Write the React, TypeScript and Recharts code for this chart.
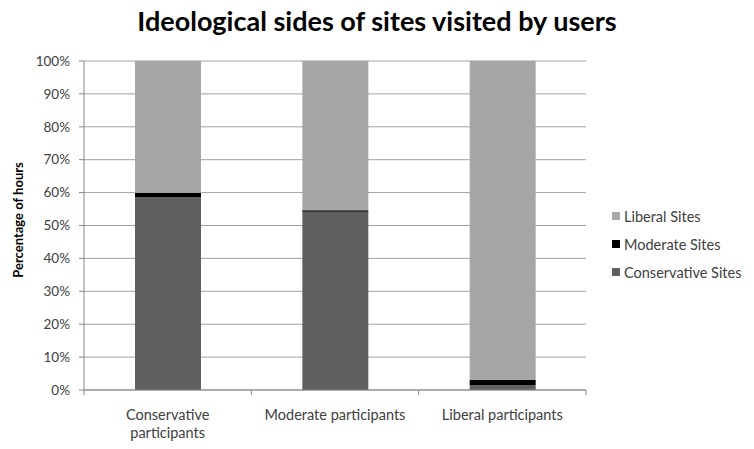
import React from 'react';
import { BarChart, Bar, XAxis, YAxis, CartesianGrid, Text } from 'recharts';

const categories = ['Conservative participants', 'Moderate participants', 'Liberal participants'];
const conservativeSites = [58.7, 54.2, 1.5];
const moderateSites = [1.2, 0.4, 1.6];
const liberalSites = [40.1, 45.4, 96.9];
const yTicks = [0, 10, 20, 30, 40, 50, 60, 70, 80, 90, 100];
const boundaryTicks = [0, 1, 2, 3];

const seriesInfo = [
  { key: 'liberal', name: 'Liberal Sites', color: '#A6A6A6' },
  { key: 'moderate', name: 'Moderate Sites', color: '#000000' },
  { key: 'conservative', name: 'Conservative Sites', color: '#606060' },
];

const data = categories.map((c, i) => ({
  name: c,
  idx: i + 0.5,
  conservative: conservativeSites[i],
  moderate: moderateSites[i],
  liberal: liberalSites[i],
}));

const FONT = 'Lato, "Open Sans", sans-serif';

const XTick = (props: any) => {
  const { x, y, payload } = props;
  return (
    <Text x={x} y={y + 6} width={158} textAnchor="middle" verticalAnchor="start"
      style={{ fontFamily: FONT, fontSize: 14.5 }} fill="#404040" lineHeight={18}>
      {payload.value}
    </Text>
  );
};

export default function App() {
  return (
    <div style={{ position: 'absolute', left: 0, top: 0, width: 754, height: 449, background: '#fff' }}>
      <div style={{ position: 'absolute', left: 0, top: 4, width: 754, textAlign: 'center', fontFamily: FONT, fontWeight: 700, fontSize: 27, color: '#000' }}>
        Ideological sides of sites visited by users
      </div>
      <div style={{ position: 'absolute', left: 18, top: 220, width: 0, height: 0 }}>
        <div style={{ position: 'absolute', transform: 'translate(-50%, -50%) rotate(-90deg)', whiteSpace: 'nowrap', fontFamily: FONT, fontWeight: 700, fontSize: 13, color: '#000' }}>
          Percentage of hours
        </div>
      </div>
      <BarChart width={754} height={449} data={data} margin={{ top: 61, right: 168, bottom: 0, left: 20 }} barCategoryGap="60%">
        <CartesianGrid vertical={false} stroke="#A0A0A0" strokeWidth={1} xAxisId="cat" />
        <XAxis xAxisId={0} type="number" dataKey="idx" domain={[0, 3]} ticks={boundaryTicks} height={6}
          tick={() => <g />} axisLine={{ stroke: '#888' }} tickLine={{ stroke: '#888' }} tickSize={5} />
        <XAxis xAxisId="cat" dataKey="name" height={53} tick={<XTick />} tickLine={false} axisLine={false} interval={0} />
        <YAxis width={64} domain={[0, 100]} ticks={yTicks} tickFormatter={(v: number) => `${v}%`}
          tick={{ fontFamily: FONT, fontSize: 13.5, fill: '#404040' }} axisLine={{ stroke: '#888' }}
          tickLine={{ stroke: '#888' }} tickSize={5} tickMargin={9} allowDataOverflow />
        <Bar xAxisId="cat" dataKey="conservative" stackId="a" fill="#606060" barSize={66} isAnimationActive={false} />
        <Bar xAxisId="cat" dataKey="moderate" stackId="a" fill="#000000" barSize={66} isAnimationActive={false} />
        <Bar xAxisId="cat" dataKey="liberal" stackId="a" fill="#A6A6A6" barSize={66} isAnimationActive={false} />
      </BarChart>
      <div style={{ position: 'absolute', left: 612, top: 202 }}>
        {seriesInfo.map((s) => (
          <div key={s.key} style={{ display: 'flex', alignItems: 'center', height: 28, fontFamily: FONT, fontSize: 14.5, color: '#404040' }}>
            <span style={{ display: 'inline-block', width: 8, height: 8, background: s.color, marginRight: 4 }} />
            {s.name}
          </div>
        ))}
      </div>
    </div>
  );
}
